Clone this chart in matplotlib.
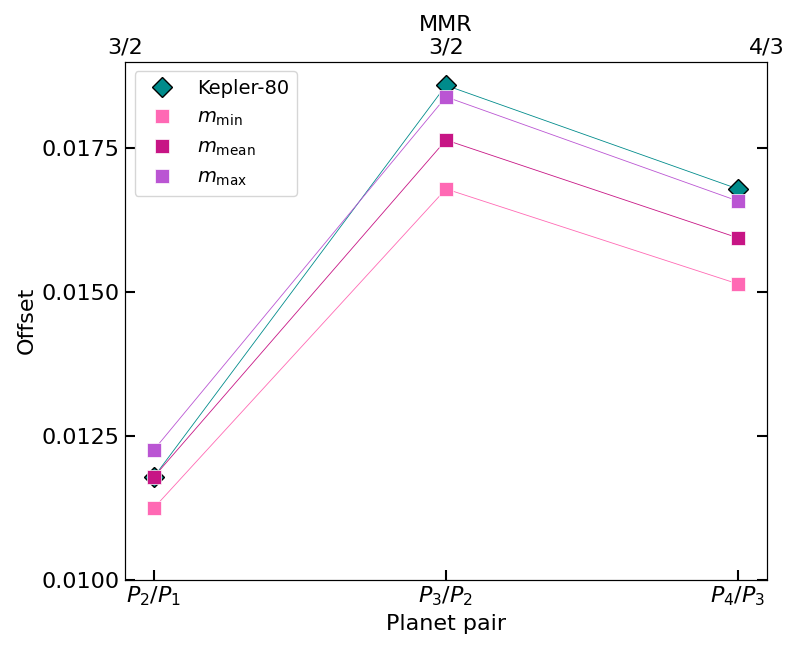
import matplotlib
matplotlib.use("Agg")
from matplotlib import pyplot as plt
from matplotlib.ticker import FormatStrFormatter

pairs = [r"$P_2/P_1$", r"$P_3/P_2$", r"$P_4/P_3$"]
mmr = ["3/2", "3/2", "4/3"]

kepler80 = [0.01179, 0.01859, 0.01679]
m_min = [0.01125, 0.01679, 0.01514]
m_mean = [0.01179, 0.01764, 0.01594]
m_max = [0.01226, 0.01839, 0.01658]

plt.rcParams["font.size"] = 16

fig = plt.figure(figsize=(8, 6.5), dpi=100)
ax = fig.add_subplot(1, 1, 1)
x = list(range(len(pairs)))

ax.plot(x, kepler80, color="darkcyan", lw=0.6)
ax.plot(x, kepler80, "D", color="darkcyan", mec="black", ms=10, ls="none", label="Kepler-80")
series = [
    (m_min, "hotpink", r"$m_{\rm min}$"),
    (m_mean, "mediumvioletred", r"$m_{\rm mean}$"),
    (m_max, "mediumorchid", r"$m_{\rm max}$"),
]
for vals, c, lab in series:
    ax.plot(x, vals, color=c, lw=0.6)
    ax.plot(x, vals, "s", color=c, mec="white", mew=0.5, ms=10, ls="none", label=lab)

ax.set_xlim(-0.1, 2.1)
ax.set_ylim(0.0100, 0.0190)
ax.set_xticks(x)
ax.set_xticklabels(pairs)
ax.set_yticks([0.0100, 0.0125, 0.0150, 0.0175])
ax.yaxis.set_major_formatter(FormatStrFormatter("%.4f"))
ax.tick_params(direction="in", length=7, width=1.5, right=True, top=True)
ax.set_xlabel("Planet pair")
ax.set_ylabel("Offset")
ax.legend(loc="upper left", fontsize=14)

# top axis: default 0..1 range, labels at the edges and centre
ax2 = ax.twiny()
ax2.set_xticks([0, 0.5, 1])
ax2.set_xticklabels(mmr)
ax2.tick_params(direction="in", length=0, pad=3)
ax2.set_xlabel("MMR", labelpad=5)

fig.subplots_adjust(left=0.156, right=0.959, top=0.905, bottom=0.108)
fig.savefig("out.png")
